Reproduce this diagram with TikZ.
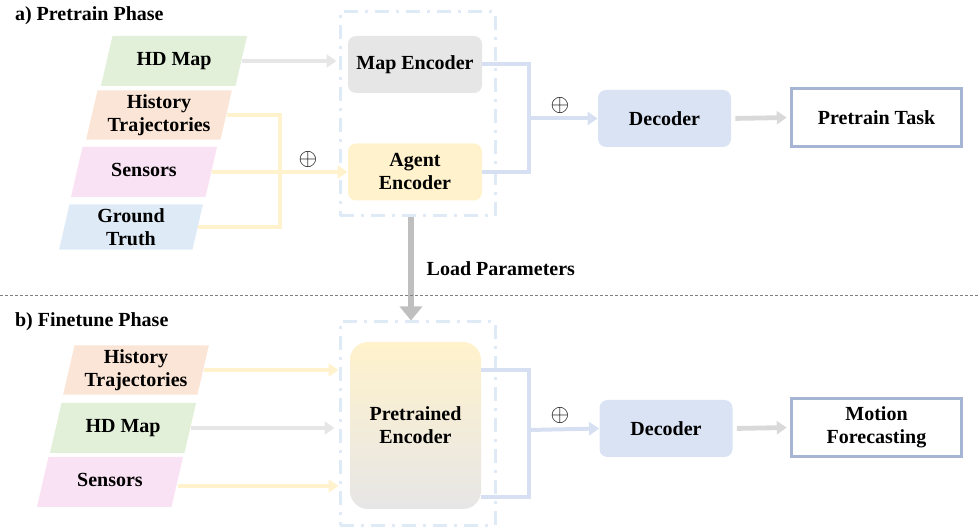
\documentclass[tikz,border=0pt]{standalone}
\usepackage{fontspec}
\setmainfont{Liberation Serif}
\usepackage{xcolor}
\usepackage{tikz}
\usetikzlibrary{arrows.meta,shapes.geometric}

\definecolor{mapgreen}{HTML}{E2F0D9}
\definecolor{historange}{HTML}{FBE5D6}
\definecolor{senspink}{HTML}{F9E2F4}
\definecolor{gtblue}{HTML}{DEEBF7}
\definecolor{encgray}{HTML}{E7E6E6}
\definecolor{encyellow}{HTML}{FFF2CC}
\definecolor{decblue}{HTML}{DAE3F3}
\definecolor{linkblue}{HTML}{D6E0F2}
\definecolor{arrowgray}{HTML}{D9D9D9}
\definecolor{loadgray}{HTML}{BFBFBF}
\definecolor{outborder}{HTML}{A7B5D4}

\begin{document}
\begin{tikzpicture}[x=0.5pt,y=-0.5pt,
	font=\bfseries\fontsize{10}{11.5}\selectfont,
	inbox/.style={trapezium, trapezium left angle=77, trapezium right angle=103,
		text width=61.5pt, inner xsep=0pt, inner ysep=2pt, align=flush center},
	oneline/.style={text height=7pt, text depth=2.5pt, inner ysep=7.75pt},
	encbox/.style={rounded corners=4pt, minimum width=67pt, minimum height=28.5pt, align=center},
	decbox/.style={rounded corners=4pt, fill=decblue, minimum width=66.5pt, minimum height=28.5pt},
	outbox/.style={draw=outborder, line width=1.75pt, fill=white, minimum width=85pt,
		minimum height=29pt, align=center},
	frame/.style={draw=gtblue, line width=1.5pt, dash pattern=on 7pt off 3.5pt on 1.5pt off 3.5pt,
		minimum width=77.5pt},
	tip/.style={-{Triangle[length=5pt,width=6.5pt]}},
	yline/.style={draw=encyellow, line width=2pt},
	bline/.style={draw=linkblue, line width=2pt},
	garrow/.style={tip, draw=arrowgray, line width=2.4pt},
	plus/.style={font=\large}]
	\useasboundingbox (0,0) rectangle (979,528);

	% Pretrain phase
	\node[anchor=west] (titleA) at (8,16) {a) Pretrain Phase};
	\node[inbox, oneline, fill=mapgreen] (hdmap) at (174,61) {HD Map};
	\node[inbox, fill=historange] (hist) at (159,115) {History\\Trajectories};
	\node[inbox, oneline, fill=senspink] (sens) at (144,172) {Sensors};
	\node[inbox, fill=gtblue] (gt) at (131,227) {Ground\\Truth};

	\node[frame, minimum height=102pt] (frameA) at (417.5,114) {};
	\node[encbox, fill=encgray] (mapenc) at (415,64.5) {Map Encoder};
	\node[encbox, fill=encyellow] (agent) at (415,172) {Agent\\Encoder};
	\node[decbox] (decA) at (664.5,118.5) {Decoder};
	\node[outbox] (task) at (876.5,117.5) {Pretrain Task};

	\coordinate (ymerge) at (280,172);
	\coordinate (bmergeA) at (529,118.5);
	\node[plus] (plusY) at (308,160) {$\oplus$};
	\node[plus] (plusA) at (560,106) {$\oplus$};

	\draw[garrow, draw=encgray] (hdmap.east) -- ([xshift=-1pt]hdmap.east -| frameA.west);
	\draw[yline] (hist.east) -| (ymerge) |- (gt.east);
	\draw[yline, tip] (sens.east) -- (agent.west);
	\draw[bline] (mapenc.east) -| (bmergeA) |- (agent.east);
	\draw[bline, tip] (bmergeA) -- (decA.west);
	\draw[garrow, shorten <=2pt, shorten >=1.5pt] (decA.east) -- (task.west);

	% Load parameters
	\node[frame, minimum height=101.5pt] (frameB) at (417.5,423.5) {};
	\draw[loadgray, line width=3pt, -{Triangle[length=7pt,width=11pt]}]
		([xshift=-2pt]frameA.south -| agent) -- ([xshift=-2pt]frameB.north -| agent)
		node[pos=0.5, right=3pt, text=black] (loadlbl) {Load Parameters};
	\draw[gray, line width=0.5pt, dash pattern=on 1.5pt off 1pt] (0,296) -- (979,296);

	% Finetune phase
	\node[anchor=west] (titleB) at (8,322) {b) Finetune Phase};
	\node[inbox, fill=historange] (hist2) at (136,370) {History\\Trajectories};
	\node[inbox, oneline, fill=mapgreen] (hdmap2) at (123,428) {HD Map};
	\node[inbox, oneline, fill=senspink] (sens2) at (110,482) {Sensors};

	\node[rounded corners=9pt, top color=encyellow, bottom color=encgray, minimum width=65.5pt,
		minimum height=83.5pt, align=center] (pre) at (415.5,425.5) {Pretrained\\Encoder};
	\node[decbox] (decB) at (666,428.5) {Decoder};
	\node[outbox] (motion) at (876.5,427.5) {Motion\\Forecasting};

	\coordinate (bmergeB) at (529,430);
	\node[plus] (plusB) at (560,416) {$\oplus$};

	\draw[yline, tip] (hist2.east) -- (hist2.east -| frameB.west);
	\draw[garrow, draw=encgray] (hdmap2.east) -- ([xshift=-2pt]hdmap2.east -| frameB.west);
	\draw[yline, tip] ([yshift=-2pt]sens2.east) -- ([yshift=-2pt]sens2.east -| frameB.west);
	\draw[bline] ([yshift=27.75pt]pre.east) -| (bmergeB) |- ([yshift=-35.75pt]pre.east);
	\draw[bline, tip] (bmergeB) -- (decB.west);
	\draw[garrow, shorten <=2pt, shorten >=1.5pt] (decB.east) -- (motion.west);
\end{tikzpicture}
\end{document}
